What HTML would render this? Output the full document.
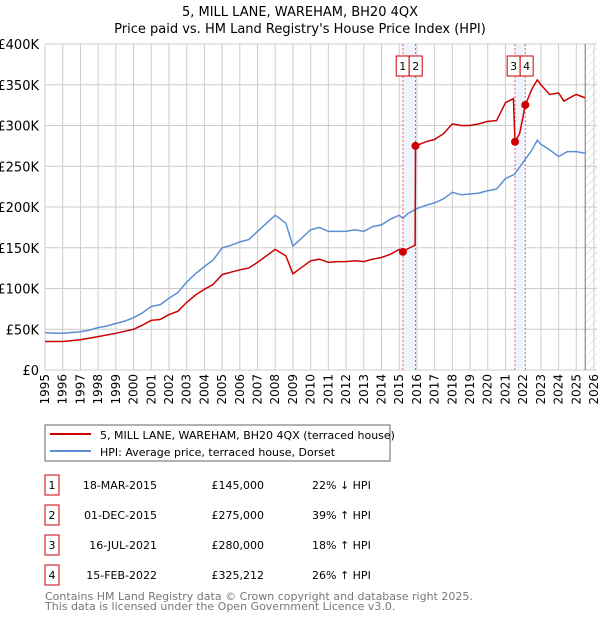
<!DOCTYPE html>
<html><head><meta charset="utf-8"><style>
body{margin:0;background:#fff;font-family:"Liberation Sans","DejaVu Sans",sans-serif}
svg text{font-family:"DejaVu Sans","Liberation Sans",sans-serif}
</style></head><body>
<svg id="c" width="600" height="620" xmlns="http://www.w3.org/2000/svg">
<defs><pattern id="hatch" width="6" height="6" patternUnits="userSpaceOnUse" patternTransform="rotate(45)"><line x1="0" y1="0" x2="0" y2="6" stroke="#ccc" stroke-width="1"/></pattern></defs>
<text x="300" y="16" text-anchor="middle" font-size="13">5, MILL LANE, WAREHAM, BH20 4QX</text>
<text x="300" y="33" text-anchor="middle" font-size="13">Price paid vs. HM Land Registry's House Price Index (HPI)</text>
<g id="plot"></g>
<rect x="45" y="425" width="345" height="36" fill="#fff" stroke="#666"/>
<line x1="50" y1="434" x2="91" y2="434" stroke="#cc0000" stroke-width="2"/>
<text x="100" y="439" font-size="11">5, MILL LANE, WAREHAM, BH20 4QX (terraced house)</text>
<line x1="50" y1="451" x2="91" y2="451" stroke="#5b8fd4" stroke-width="2"/>
<text x="100" y="456" font-size="11">HPI: Average price, terraced house, Dorset</text>
<g id="table" font-size="11"></g>
<text x="45" y="600" font-size="11" fill="#777">Contains HM Land Registry data © Crown copyright and database right 2025.</text>
<text x="45" y="610" font-size="11" fill="#777">This data is licensed under the Open Government Licence v3.0.</text>
</svg>
<script>
const hpiT=[1995,1995.5,1996,1996.5,1997,1997.5,1998,1998.5,1999,1999.5,2000,2000.5,2001,2001.5,2002,2002.5,2003,2003.5,2004,2004.5,2005,2005.5,2006,2006.5,2007,2007.5,2008,2008.3,2008.6,2009,2009.5,2010,2010.5,2011,2011.5,2012,2012.5,2013,2013.5,2014,2014.5,2015,2015.2,2015.5,2016,2016.5,2017,2017.5,2018,2018.5,2019,2019.5,2020,2020.5,2021,2021.5,2022,2022.5,2022.8,2023,2023.5,2024,2024.5,2025,2025.5];
const hpiV=[46,45,45,46,47,49,52,54,57,60,64,70,78,80,88,95,108,118,127,135,150,153,157,160,170,180,190,185,180,152,162,172,175,170,170,170,172,170,176,178,185,190,186,192,198,202,205,210,218,215,216,217,220,222,235,240,255,270,282,277,270,262,268,268,266];
const redT=[1995,1996,1997,1998,1999,2000,2000.5,2001,2001.5,2002,2002.5,2003,2003.5,2004,2004.5,2005,2005.5,2006,2006.5,2007,2007.5,2008,2008.3,2008.6,2009,2009.5,2010,2010.5,2011,2011.5,2012,2012.5,2013,2013.5,2014,2014.5,2015,2015.21,2015.5,2015.9,2015.92,2016.5,2017,2017.5,2018,2018.5,2019,2019.5,2020,2020.5,2021,2021.45,2021.54,2021.8,2022.12,2022.5,2022.8,2023,2023.5,2024,2024.3,2024.8,2025,2025.5];
const redV=[35,35,37,41,45,50,55,61,62,68,72,83,92,99,105,117,120,123,125,132,140,148,144,140,118,126,134,136,132,133,133,134,133,136,138,142,148,145,149,153,275,280,283,290,302,300,300,302,305,306,328,333,280,290,325,345,356,350,338,340,330,336,338,334];
const saleIds=["1","2","3","4"];
const saleT=[2015.21,2015.92,2021.54,2022.12];
const saleV=[145,275,280,325.212];
const saleDates=["18-MAR-2015","01-DEC-2015","16-JUL-2021","15-FEB-2022"];
const salePrices=["£145,000","£275,000","£280,000","£325,212"];
const salePct=["22% ↓ HPI","39% ↑ HPI","18% ↑ HPI","26% ↑ HPI"];
const yTicks=[0,50,100,150,200,250,300,350,400];
const yLabels=["£0","£50K","£100K","£150K","£200K","£250K","£300K","£350K","£400K"];
const xYears=[];for(let y=1995;y<=2026;y++)xYears.push(y);

const NS="http://www.w3.org/2000/svg";
const X0=45,X1=594,Y0=370,Y1=44,PR=597;
const xs=t=>X0+(t-1995)*(X1-X0)/31;
const ys=v=>Y0-v*(Y0-Y1)/400;
const g=document.getElementById('plot');
function mk(tag,at,par){const e=document.createElementNS(NS,tag);for(const k in at)e.setAttribute(k,at[k]);(par||g).appendChild(e);return e;}

// grid
xYears.forEach(y=>{const l=mk('line',{x1:xs(y),x2:xs(y),y1:Y1,y2:Y0,stroke:'#ccc','stroke-width':1});

});
yTicks.forEach(v=>{const l=mk('line',{x1:X0,x2:PR,y1:ys(v),y2:ys(v),stroke:'#ccc','stroke-width':1});

});
// hatch
const h=mk('rect',{x:xs(2025.5),y:Y1,width:PR-xs(2025.5),height:Y0-Y1,fill:'url(#hatch)'});


mk('line',{x1:xs(2025.5),x2:xs(2025.5),y1:Y1,y2:Y0,stroke:'#555','stroke-width':0.8});
// bands
[[0,1],[2,3]].forEach(p=>{const b=mk('rect',{x:xs(saleT[p[0]]),y:Y1,width:xs(saleT[p[1]])-xs(saleT[p[0]]),height:Y0-Y1,fill:'#eef3fc'});

});
saleT.forEach(t=>{const l=mk('line',{x1:xs(t),x2:xs(t),y1:Y1,y2:Y0,stroke:'#e06060','stroke-width':1,'stroke-dasharray':'2,2'});

});
// number boxes
[[0,1],[2,3]].forEach(p=>{const mid=(xs(saleT[p[0]])+xs(saleT[p[1]]))/2;
[p[0],p[1]].forEach((i,k)=>{const bx=k===0?mid-13:mid;
const r=mk('rect',{x:bx,y:56,width:13,height:20,fill:'#fff',stroke:'#cc0000'});


const tx=mk('text',{x:bx+6.5,y:70,'text-anchor':'middle','font-size':11});tx.textContent=saleIds[i];

});});
// axes labels
yTicks.forEach((v,i)=>{const t=mk('text',{x:39,y:ys(v)+5,'text-anchor':'end','font-size':13});t.textContent=yLabels[i];

});
xYears.forEach(y=>{const t=mk('text',{x:0,y:0,'text-anchor':'end','font-size':12,transform:`translate(${xs(y)+4},374) rotate(-90)`});t.textContent=y;

});
// lines
function path(T,V){return T.map((t,i)=>(i?'L':'M')+xs(t).toFixed(1)+','+ys(V[i]).toFixed(1)).join('');}
const hp=mk('path',{d:path(hpiT,hpiV),fill:'none',stroke:'#5b8fd4','stroke-width':1.5});


const rp=mk('path',{d:path(redT,redV),fill:'none',stroke:'#cc0000','stroke-width':1.5});


saleT.forEach((t,i)=>{const c=mk('circle',{cx:xs(t),cy:ys(saleV[i]),r:4,fill:'#cc0000'});

});
// table
const tb=document.getElementById('table');
saleIds.forEach((id,i)=>{const y0=475+i*30;
const r=mk('rect',{x:45,y:y0,width:14,height:20,fill:'#fff',stroke:'#cc0000'},tb);


const cells=[[52,id,'middle','table-row-number'],[157,saleDates[i],'end','table-row-date'],[264,salePrices[i],'end','table-row-price'],[312,salePct[i],'start','table-row-hpi-change']];
cells.forEach(c=>{const t=mk('text',{x:c[0],y:y0+14,'text-anchor':c[2]},tb);t.textContent=c[1];

});});
</script>
</body></html>
